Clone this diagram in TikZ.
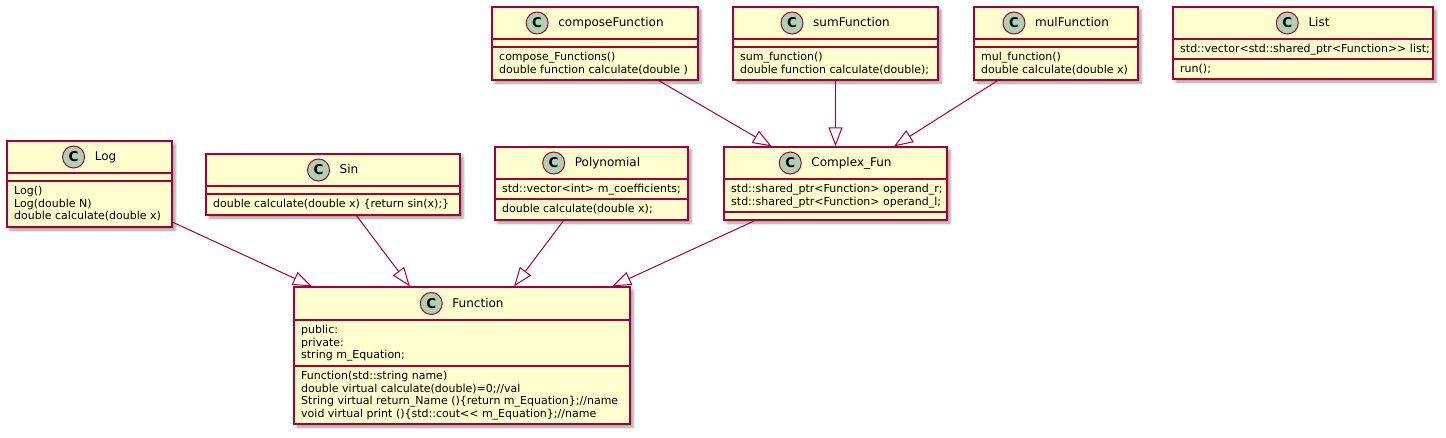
\documentclass[tikz,border=0pt]{standalone}
\usepackage{fontspec}
\setmainfont{DejaVu Sans}
\usetikzlibrary{arrows.meta,fit,shadows.blur}
\definecolor{umlred}{HTML}{A80036}
\definecolor{umlfill}{HTML}{FEFECE}
\definecolor{umlgreen}{HTML}{ADD1B2}
\tikzset{
  cls/.style={draw=umlred, fill=umlfill, line width=1.3pt, rectangle, inner sep=0pt,
    blur shadow={shadow xshift=3pt, shadow yshift=-3pt, shadow blur radius=2.5pt, shadow opacity=40}},
  sepl/.style={draw=umlred, line width=1.3pt},
  circ/.style={circle, draw=umlred, fill=umlgreen, line width=1pt, minimum size=22pt, inner sep=0pt,
    font=\fontsize{13.5}{14}\selectfont\bfseries},
  cname/.style={inner sep=0pt, anchor=center, text height=9.5pt, text depth=2.5pt, font=\fontsize{12}{14}\selectfont},
  mem/.style={inner sep=0pt, anchor=base west, font=\fontsize{11}{12.6}\selectfont},
  ext/.style={draw=umlred, line width=1pt, -{Triangle[open, length=19pt, width=14pt]}},
}
% id, L, T, R, B, header bottom, section separator, title
\newcommand\umlclass[8]{%
  \node[cls, fit={(#2,#3) (#4,#5)}] (#1) {};
  \draw[sepl] (#2,#6) -- (#4,#6);
  \draw[sepl] (#2,#7) -- (#4,#7);
  \node[cname] (#1-name) at ({(#2+#4)/2+16},{(#3+#6)/2}) {#8};
  \node[circ] (#1-icon) at ([xshift=-21pt]#1-name.west) {C};
}
\newcommand\mem[4]{\node[mem] (#1) at (#2,#3) {#4};}
\begin{document}
\begin{tikzpicture}[x=1pt,y=-1pt]
\useasboundingbox (0,0) rectangle (1446,437);

% top row
\umlclass{compose}{492}{7}{698}{80}{39}{47}{composeFunction}
\mem{compose-m1}{499}{60.5}{compose\_Functions()}
\mem{compose-m2}{499}{73.1}{double function calculate(double )}

\umlclass{sum}{733}{7}{938}{80}{39}{47}{sumFunction}
\mem{sum-m1}{740}{60.5}{sum\_function()}
\mem{sum-m2}{740}{73.1}{double function calculate(double);}

\umlclass{mul}{974}{7}{1138}{80}{39}{47}{mulFunction}
\mem{mul-m1}{981}{60.5}{mul\_function()}
\mem{mul-m2}{981}{73.1}{double calculate(double x)}

\umlclass{list}{1173}{7}{1433}{79}{39}{59}{List}
\mem{list-a1}{1180}{52.5}{std::vector<std::shared\_ptr<Function>{}> list;}
\mem{list-m1}{1180}{72.5}{run();}

% middle row
\umlclass{log}{7}{141}{172}{227}{173}{181}{Log}
\mem{log-m1}{14}{194.5}{Log()}
\mem{log-m2}{14}{207.1}{Log(double N)}
\mem{log-m3}{14}{219.7}{double calculate(double x)}

\umlclass{sin}{206}{154}{460}{215}{186}{194}{Sin}
\mem{sin-m1}{213}{207.5}{double calculate(double x) \{return sin(x);\}}

\umlclass{poly}{495}{147}{688}{220}{179}{199}{Polynomial}
\mem{poly-a1}{502}{192.5}{std::vector<int> m\_coefficients;}
\mem{poly-m1}{502}{212.5}{double calculate(double x);}

\umlclass{cplx}{724}{147}{947}{220}{179}{212}{Complex\_Fun}
\mem{cplx-a1}{731}{192.5}{std::shared\_ptr<Function> operand\_r;}
\mem{cplx-a2}{731}{205.1}{std::shared\_ptr<Function> operand\_l;}

% bottom
\umlclass{func}{294}{287}{630}{424}{320}{366}{Function}
\mem{func-a1}{301}{333.5}{public:}
\mem{func-a2}{301}{346.1}{private:}
\mem{func-a3}{301}{358.7}{string m\_Equation;}
\mem{func-m1}{301}{379.5}{Function(std::string name)}
\mem{func-m2}{301}{392.1}{double virtual calculate(double)=0;//val}
\mem{func-m3}{301}{404.7}{String virtual return\_Name ()\{return m\_Equation\};//name}
\mem{func-m4}{301}{417.3}{void virtual print ()\{std::cout<{}< m\_Equation\};//name}

% inheritance
\draw[ext] (compose) -- (cplx);
\draw[ext] (sum) -- (cplx);
\draw[ext] (mul) -- (cplx);
\draw[ext] (log) -- (func);
\draw[ext] (sin) -- (func);
\draw[ext] (poly) -- (func);
\draw[ext] (cplx) -- (func);
\end{tikzpicture}
\end{document}
